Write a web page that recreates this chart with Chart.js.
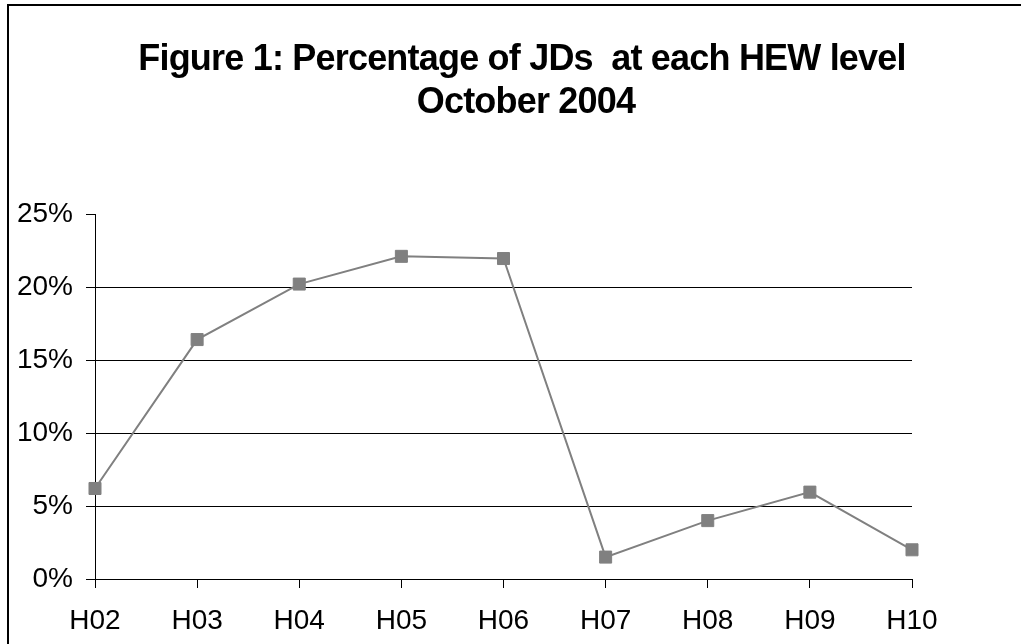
<!DOCTYPE html>
<html>
<head>
<meta charset="utf-8">
<script src="https://cdn.jsdelivr.net/npm/chart.js@4.4.1/dist/chart.umd.min.js"></script>
<style>
  html, body { margin: 0; padding: 0; background: #fff; overflow: hidden; }
  #wrap { position: relative; width: 1021px; height: 644px; }
</style>
</head>
<body>
<div id="wrap"><canvas id="c" width="1021" height="644"></canvas></div>
<script>
const categories = ['H02', 'H03', 'H04', 'H05', 'H06', 'H07', 'H08', 'H09', 'H10'];
const percentages = [6.2, 16.4, 20.2, 22.1, 21.95, 1.5, 4.0, 5.95, 2.0];
const titleLines = ['Figure 1: Percentage of JDs  at each HEW level', 'October 2004'];
const yTicks = [0, 5, 10, 15, 20, 25];

const frameAndTitle = {
  id: 'frameAndTitle',
  beforeDraw(chart) {
    const ctx = chart.ctx;
    ctx.save();
    ctx.fillStyle = '#fff';
    ctx.fillRect(0, 0, chart.width, chart.height);
    ctx.restore();
  },
  afterDraw(chart) {
    const ctx = chart.ctx;
    ctx.save();
    ctx.strokeStyle = '#000';
    ctx.lineWidth = 2;
    ctx.strokeRect(8, 5, 1200, 1200);
    ctx.fillStyle = '#000';
    ctx.font = "bold 36px 'Liberation Sans', Arial, sans-serif";
    if ('letterSpacing' in ctx) ctx.letterSpacing = '-0.8px';
    ctx.textAlign = 'center';
    ctx.textBaseline = 'alphabetic';
    ctx.fillText(titleLines[0], 522, 70);
    ctx.fillText(titleLines[1], 526, 113);
    ctx.restore();
  }
};

new Chart(document.getElementById('c'), {
  type: 'line',
  data: {
    labels: categories,
    datasets: [{
      data: percentages,
      borderColor: '#808080',
      backgroundColor: '#808080',
      borderWidth: 2,
      pointStyle: 'rect',
      pointRadius: 8.5,
      pointBorderWidth: 1,
      pointBorderColor: '#808080',
      pointBackgroundColor: '#808080',
      tension: 0,
      fill: false
    }]
  },
  options: {
    responsive: false,
    animation: false,
    devicePixelRatio: 1,
    layout: { padding: { top: 214, right: 109, left: 0, bottom: 0 } },
    plugins: {
      legend: { display: false },
      title: { display: false },
      tooltip: { enabled: false }
    },
    scales: {
      x: {
        offset: false,
        grid: {
          drawOnChartArea: false,
          drawTicks: true,
          tickLength: 9,
          tickColor: '#000'
        },
        border: { display: true, color: '#000', width: 1 },
        ticks: {
          color: '#000',
          padding: 16,
          maxRotation: 0,
          autoSkip: false,
          font: { family: "'Liberation Sans', Arial, sans-serif", size: 28 }
        },
        afterFit(scale) { scale.height = 65; }
      },
      y: {
        min: 0,
        max: 25,
        afterBuildTicks(scale) { scale.ticks = yTicks.map(v => ({ value: v })); },
        grid: {
          color: (c) => (c.tick && (c.tick.value === 25 || c.tick.value === 0)) ? 'rgba(0,0,0,0)' : '#000',
          lineWidth: 1,
          tickLength: 9,
          tickColor: '#000'
        },
        border: { display: true, color: '#000', width: 1 },
        ticks: {
          color: '#000',
          padding: 13,
          callback: (v) => v + '%',
          font: { family: "'Liberation Sans', Arial, sans-serif", size: 28 }
        },
        afterFit(scale) { scale.width = 95; }
      }
    }
  },
  plugins: [frameAndTitle]
});
</script>
</body>
</html>
